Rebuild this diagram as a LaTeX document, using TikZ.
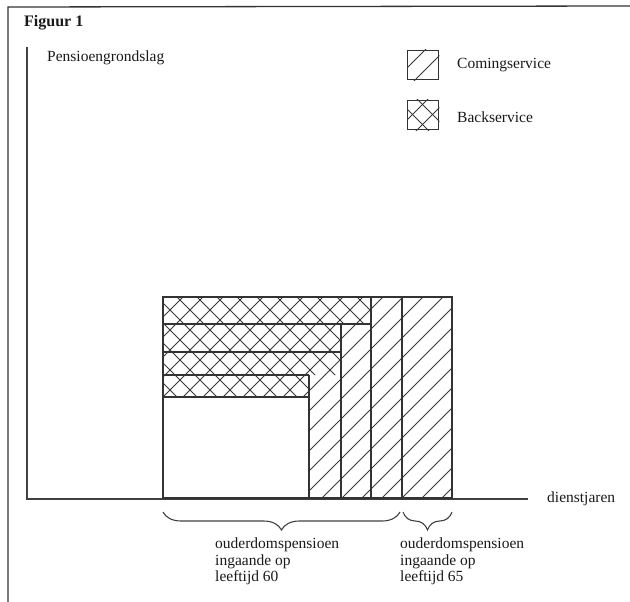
\documentclass[tikz,border=0pt]{standalone}
\usepackage{fontspec}
\setmainfont{Liberation Serif}
\usetikzlibrary{decorations.pathreplacing}

\begin{document}
\begin{tikzpicture}[x=1pt, y=-1pt,
    lbl/.style={font=\fontsize{15.5}{16.5}\selectfont, inner sep=0pt, text=black!90},
    outline/.style={draw=black!80, line width=1.3pt},
    axisline/.style={draw=black!75, line width=1.4pt},
    hatchline/.style={draw=black!78, line width=1pt},
    legbox/.style={outline, minimum width=31pt, minimum height=29pt, inner sep=0pt},
    bracket/.style={draw=black!75, line width=1.1pt, decorate, decoration={brace, mirror, amplitude=18pt}}
]
\useasboundingbox (0,0) rectangle (630,602);

% Frame and axes
\coordinate (fbl) at (8,602);
\coordinate (ftl) at (8,7);
\coordinate (ftr) at (630,6);
\draw[outline] (fbl) -- (ftl) -- (ftr);
\coordinate (orig) at (27,499);
\coordinate (ytop) at (27,47);
\coordinate (xend) at (528,499);
\draw[axisline] (ytop) -- (orig) -- (xend);

\node[lbl, font=\fontsize{16}{17}\selectfont\bfseries, anchor=base west] (title) at (24,27) {Figuur 1};
\node[lbl, anchor=base west] (ylab) at (47,62) {Pensioengrondslag};
\node[lbl, anchor=base west] (xlab) at (547,502) {dienstjaren};

% Legend
\node[legbox, anchor=north west] (lcome) at (407,50) {};
\node[legbox, anchor=north west] (lback) at (407,100) {};
\begin{scope}
  \clip (lcome.north west) rectangle (lcome.south east);
  \foreach \c in {475,495} \draw[hatchline] (\c-40,40) -- (\c-90,90);
\end{scope}
\begin{scope}
  \clip (lback.north west) rectangle (lback.south east);
  \foreach \c in {527,547} \draw[hatchline] (\c-90,90) -- (\c-140,140);
  \foreach \d in {298,318} \draw[hatchline] (\d+90,90) -- (\d+140,140);
\end{scope}
\node[lbl, anchor=base west] (lcometxt) at (457,69) {Comingservice};
\node[lbl, anchor=base west] (lbacktxt) at (457,122) {Backservice};

% Comingservice hatching
\begin{scope}
  \clip (309,498) -- (309,375) -- (341,375) -- (341,324) -- (371,324) -- (371,297)
        -- (452,297) -- (452,498) -- cycle;
  \foreach \c in {600,620,...,960} \draw[hatchline] (\c-290,290) -- (\c-510,510);
\end{scope}

% Backservice hatching
\begin{scope}
  \clip (163,297) -- (371,297) -- (371,324) -- (341,324) -- (341,375) -- (309,375)
        -- (309,397) -- (163,397) -- cycle;
  \foreach \c in {460,480,...,780} \draw[hatchline] (\c-290,290) -- (\c-410,410);
  \foreach \d in {-240,-220,...,80} \draw[hatchline] (\d+290,290) -- (\d+410,410);
\end{scope}

% Block outlines
\draw[outline] (163,498) rectangle (452,297);
\draw[outline] (163,324) -- (371,324);
\draw[outline] (163,352) -- (341,352);
\draw[outline] (163,375) -- (309,375);
\draw[outline] (163,397) -- (309,397);
\draw[outline] (309,498) -- (309,375);
\draw[outline] (341,498) -- (341,324);
\draw[outline] (371,498) -- (371,297);
\draw[outline] (402,498) -- (402,297);

% Braces and labels
\coordinate (b60l) at (163,512);
\coordinate (b60r) at (400,512);
\coordinate (b65l) at (403,512);
\coordinate (b65r) at (452,512);
\draw[bracket] (b60l) -- (b60r);
\draw[bracket] (b65l) -- (b65r);
\node[lbl, align=left, anchor=north west] (age60) at (215,538) {ouderdomspensioen\\ingaande op\\leeftijd 60};
\node[lbl, align=left, anchor=north west] (age65) at (400,538) {ouderdomspensioen\\ingaande op\\leeftijd 65};
\end{tikzpicture}
\end{document}
